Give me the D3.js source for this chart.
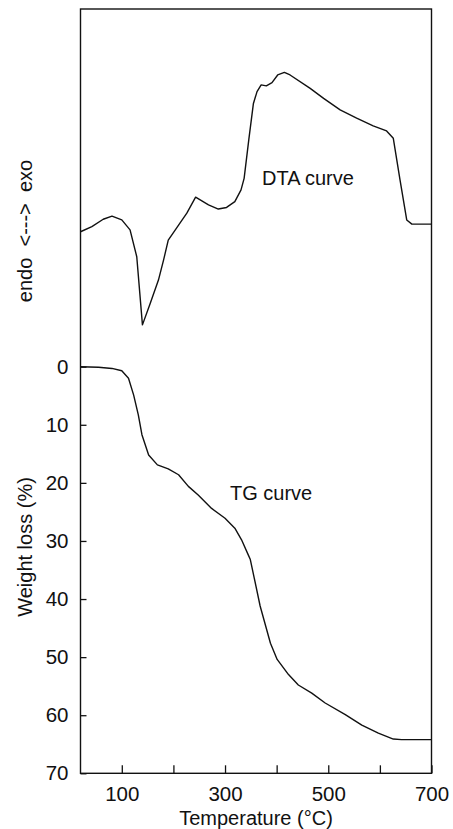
<!DOCTYPE html>
<html>
<head>
<meta charset="utf-8">
<script src="https://cdn.jsdelivr.net/npm/d3@7"></script>
<style>
  body { margin: 0; background: #fff; }
  text { font-family: "Liberation Sans", Arial, sans-serif; fill: #111; }
</style>
</head>
<body>
<div id="graphique"></div>
<script>
// === ANALYSE THERMIQUE : courbes DTA et TG ===

// Courbe DTA (unités arbitraires, endo en bas / exo en haut)
const temperaturesDTA = [20, 42, 64, 81, 100, 116, 129, 140, 155, 171, 181, 190, 210, 226, 243, 268, 287, 303, 319, 331, 337, 346, 355, 362, 370, 380, 391, 402, 415, 426, 465, 491, 523, 555, 587, 613, 626, 639, 652, 662, 700];
const signalDTA = [30.7, 32.3, 34.6, 35.6, 34.4, 31.3, 22.9, 1.6, 8.3, 15.6, 21.9, 28.1, 32.8, 36.5, 41.5, 39.1, 37.8, 38.3, 40.1, 43.8, 47.4, 59.4, 70.8, 74.5, 76.6, 76.3, 77.3, 79.7, 80.5, 79.7, 75.5, 72.4, 68.8, 66.2, 63.8, 62.2, 59.9, 46.9, 34.4, 33.1, 33.1];

// Courbe TG (perte de masse en %)
const temperaturesTG = [20, 55, 81, 100, 113, 123, 132, 139, 152, 169, 190, 210, 229, 248, 274, 300, 319, 332, 345, 349, 368, 388, 401, 423, 442, 468, 494, 533, 565, 597, 626, 642, 700];
const perteMasse = [0, 0.1, 0.3, 0.7, 2.0, 4.9, 8.3, 11.7, 15.2, 16.9, 17.6, 18.6, 20.6, 22.1, 24.4, 26.1, 27.8, 29.8, 32.4, 33.2, 41.2, 47.6, 50.4, 53.0, 54.8, 56.2, 57.9, 59.9, 61.7, 63.1, 64.1, 64.2, 64.2];

// Graduations
const ticksTemperature = [100, 200, 300, 400, 500, 600, 700];
const labelsTemperature = [100, 300, 500, 700];
const ticksMasse = [0, 10, 20, 30, 40, 50, 60, 70];

const largeur = 453;
const hauteur = 829;
const haut = 9; // bord supérieur du cadre

const svg = d3.select("#graphique")
  .append("svg")
  .attr("width", largeur)
  .attr("height", hauteur);

const x = d3.scaleLinear().domain([20, 700]).range([80.5, 431.5]);
const yDTA = d3.scaleLinear().domain([0, 100]).range([330, 10]);
const yTG = d3.scaleLinear().domain([0, 70]).range([366.7, 773.3]);

// Cadre
svg.append("rect")
  .attr("x", x(20))
  .attr("y", haut)
  .attr("width", x(700) - x(20))
  .attr("height", yTG(70) - haut)
  .attr("fill", "none")
  .attr("stroke", "#111")
  .attr("stroke-width", 1.4);

// Axe des températures (graduations vers l'intérieur)
const axeX = d3.axisBottom(x)
  .tickValues(ticksTemperature)
  .tickSize(-8)
  .tickPadding(13)
  .tickFormat(d => labelsTemperature.includes(d) ? d : "");

const gX = svg.append("g")
  .attr("transform", `translate(0, ${yTG(70)})`)
  .call(axeX);
gX.select(".domain").remove();
gX.selectAll("line").attr("stroke", "#111").attr("stroke-width", 1.3);
gX.selectAll("text").style("font-size", "20.5px");

// Axe de la perte de masse
const axeY = d3.axisLeft(yTG)
  .tickValues(ticksMasse)
  .tickSize(-6)
  .tickPadding(12);

const gY = svg.append("g")
  .attr("transform", `translate(${x(20)}, 0)`)
  .call(axeY);
gY.select(".domain").remove();
gY.selectAll("line").attr("stroke", "#111").attr("stroke-width", 1.3);
gY.selectAll("text").style("font-size", "20.5px");

// Courbes
const ligneDTA = d3.line()
  .x((d, i) => x(temperaturesDTA[i]))
  .y(d => yDTA(d));

svg.append("path")
  .datum(signalDTA)
  .attr("d", ligneDTA)
  .attr("fill", "none")
  .attr("stroke", "#111")
  .attr("stroke-width", 1.4)
  .attr("stroke-linejoin", "round");

const ligneTG = d3.line()
  .x((d, i) => x(temperaturesTG[i]))
  .y(d => yTG(d));

svg.append("path")
  .datum(perteMasse)
  .attr("d", ligneTG)
  .attr("fill", "none")
  .attr("stroke", "#111")
  .attr("stroke-width", 1.4)
  .attr("stroke-linejoin", "round");

// Étiquettes des courbes
svg.append("text")
  .attr("x", 262)
  .attr("y", 185)
  .style("font-size", "20px")
  .text("DTA curve");

svg.append("text")
  .attr("x", 230)
  .attr("y", 500)
  .style("font-size", "20px")
  .text("TG curve");

// Titres des axes
svg.append("text")
  .attr("text-anchor", "middle")
  .attr("x", (x(20) + x(700)) / 2)
  .attr("y", 825)
  .style("font-size", "20px")
  .text("Temperature (°C)");

svg.append("text")
  .attr("text-anchor", "middle")
  .attr("transform", "translate(32, 547) rotate(-90)")
  .style("font-size", "20px")
  .text("Weight loss (%)");

svg.append("text")
  .attr("text-anchor", "middle")
  .attr("transform", "translate(32, 231) rotate(-90)")
  .style("font-size", "20px")
  .style("white-space", "pre")
  .text("endo  <--->  exo");
</script>
</body>
</html>
